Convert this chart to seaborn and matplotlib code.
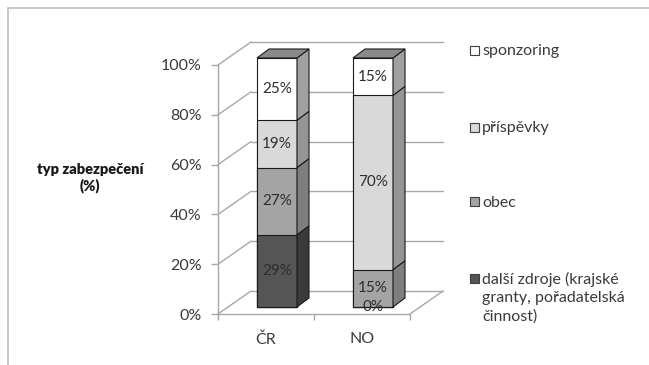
import numpy as np
import pandas as pd
import matplotlib
matplotlib.use("Agg")
import matplotlib.pyplot as plt
import seaborn as sns
from matplotlib.patches import Polygon, Rectangle
from matplotlib.transforms import ScaledTranslation

# ---- data ----
categories = ["ČR", "NO"]
series_names = ["další zdroje (krajské\ngranty, pořadatelská\nčinnost)", "obec", "příspěvky", "sponzoring"]
dalsi_zdroje = [29, 0]
obec = [27, 15]
prispevky = [19, 70]
sponzoring = [25, 15]
y_ticks = [0, 20, 40, 60, 80, 100]
y_label = "typ zabezpečení\n(%)"

front_colors = ["#555555", "#a4a4a4", "#d9d9d9", "#ffffff"]
side_colors = ["#3a3a3a", "#7e7e7e", "#959595", "#a0a0a0"]
top_color = "#8a8a8a"
txt_color = "#3a3a3a"
grid_color = "#a8a8a8"

sns.set_theme(style="white")
plt.rcParams["font.family"] = ["Lato", "DejaVu Sans"]

W, H = 649, 365
fig = plt.figure(figsize=(W / 100, H / 100), dpi=100)

# front plane geometry in pixels
x0p, x1p, y0p, y1p = 218, 410, 314, 65
ax = fig.add_axes([x0p / W, 1 - y0p / H, (x1p - x0p) / W, (y0p - y1p) / H])
ax.set_xlim(-0.5, 1.5)
ax.set_ylim(0, 100)
ux = (x1p - x0p) / 2.0      # px per x unit
uy = (y0p - y1p) / 100.0    # px per %

def dx(px):
    return px / ux

def dy(px):
    return px / uy

# depth offsets
DXd, DYd = dx(33), dy(23)      # full depth (back wall)
FXd, FYd = dx(11), dy(7)       # bar front face offset
SXd, SYd = dx(12), dy(9)       # bar depth

series = [dalsi_zdroje, obec, prispevky, sponzoring]
vals = np.array(series, dtype=float)
cum = np.cumsum(vals, axis=0)
bottoms = cum - vals

# back wall gridlines and side wall diagonals
for t in y_ticks:
    ax.plot([-0.5 + DXd, 1.5 + DXd], [t + DYd, t + DYd], color=grid_color, lw=1.0, clip_on=False, zorder=0)
    ax.plot([-0.5, -0.5 + DXd], [t, t + DYd], color=grid_color, lw=1.0, clip_on=False, zorder=0)
# floor
ax.plot([-0.5, 1.5], [0, 0], color=grid_color, lw=1.0, clip_on=False, zorder=0)
ax.plot([1.5, 1.5 + DXd], [0, DYd], color=grid_color, lw=1.0, clip_on=False, zorder=0)

# front faces with seaborn (layered cumulative totals)
bw = 40 / ux
for k in range(len(series) - 1, -1, -1):
    df = pd.DataFrame({"cat": categories, "val": cum[k]})
    sns.barplot(data=df, x="cat", y="val", color=front_colors[k], saturation=1,
                width=bw, edgecolor="#1a1a1a", linewidth=0.8, ax=ax, zorder=3)

shift = ScaledTranslation(FXd * ux / 100, FYd * uy / 100, fig.dpi_scale_trans)
for p in ax.patches:
    p.set_transform(ax.transData + shift)
    p.set_clip_on(False)

# side and top faces
for i in range(len(categories)):
    xr = i + bw / 2 + FXd
    xl = i - bw / 2 + FXd
    for k in range(len(series)):
        lo = bottoms[k, i] + FYd
        hi = cum[k, i] + FYd
        if hi > lo:
            poly = Polygon([(xr, lo), (xr + SXd, lo + SYd), (xr + SXd, hi + SYd), (xr, hi)],
                           closed=True, facecolor=side_colors[k], edgecolor="#1a1a1a",
                           lw=0.8, clip_on=False, zorder=4)
            ax.add_patch(poly)
    top = cum[-1, i] + FYd
    ax.add_patch(Polygon([(xl, top), (xl + SXd, top + SYd), (xr + SXd, top + SYd), (xr, top)],
                         closed=True, facecolor=top_color, edgecolor="#1a1a1a", lw=0.8,
                         clip_on=False, zorder=4))
    # value labels
    for k in range(len(series)):
        v = vals[k, i]
        yc = bottoms[k, i] + v / 2 + FYd
        ax.text(i + FXd, yc, f"{int(v)}%", ha="center", va="center", fontsize=11,
                color="#2e2e2e", zorder=6, clip_on=False)

# axes styling
for s in ["top", "right", "bottom"]:
    ax.spines[s].set_visible(False)
ax.spines["left"].set_color(grid_color)
ax.spines["left"].set_linewidth(1.0)
ax.set_yticks(y_ticks)
ax.set_yticklabels([f"{t}%" for t in y_ticks])
ax.tick_params(axis="y", length=5, width=1, color=grid_color, pad=7, labelsize=11.5,
               labelcolor=txt_color, left=True, direction="out")
ax.set_xticks([0, 1])
ax.set_xticklabels(categories)
ax.set_xticks([-0.5, 0.5, 1.5], minor=True)
ax.tick_params(axis="x", which="major", length=0, pad=13, labelsize=11.5, labelcolor=txt_color)
ax.tick_params(axis="x", which="minor", length=4, width=1, color=grid_color, bottom=True, direction="out")
ax.set_xlabel("")
ax.set_ylabel("")
ax.grid(False)

fig.text(90 / W, 1 - 178 / H, y_label, ha="center", va="center", fontsize=10.5,
         fontweight="heavy", color="#1a1a1a", linespacing=1.25)

# legend (manual, top to bottom)
leg_y = [50, 127, 202, 278]
for k, yy in zip([3, 2, 1, 0], leg_y):
    fig.patches.append(Rectangle(((470) / W, 1 - (yy + 4.5) / H), 9 / W, 9 / H,
                                 transform=fig.transFigure, facecolor=front_colors[k],
                                 edgecolor="#404040", lw=0.8))
    fig.text(482 / W, 1 - (yy - 6) / H, series_names[k], ha="left", va="top",
             fontsize=11.5, color=txt_color, linespacing=1.35)

# outer frame
fig.patches.append(Rectangle((8 / W, -0.1), 1.2, 1 - 8 / H + 0.1, transform=fig.transFigure,
                             fill=False, edgecolor="#bdbdbd", lw=1.2))

fig.savefig("out.png", dpi=100)
